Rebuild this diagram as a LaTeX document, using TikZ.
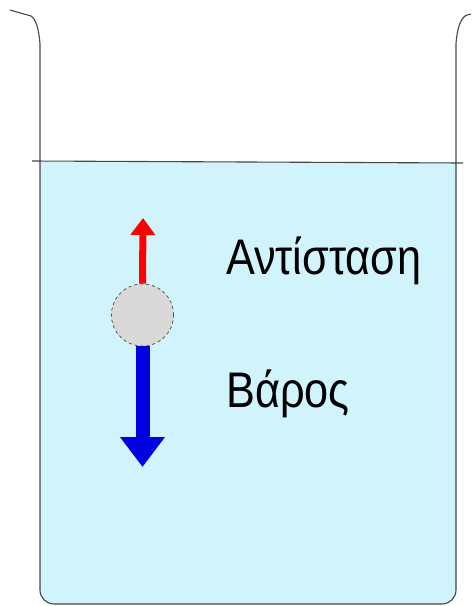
\documentclass[tikz,border=0pt]{standalone}
\usepackage{fontspec}
\setmainfont{Liberation Sans}
\usetikzlibrary{arrows.meta}
\definecolor{water}{RGB}{208,243,252}
\definecolor{glass}{RGB}{70,70,70}
\definecolor{ballgray}{RGB}{217,217,217}
\definecolor{forcered}{RGB}{255,0,0}
\definecolor{forceblue}{RGB}{0,0,225}
\tikzset{
  wall/.style={draw=glass, line width=1.1pt},
  label/.style={anchor=base west, inner sep=0pt, font=\fontsize{50}{50}\selectfont},
  upforce/.style={draw=forcered, line width=7pt, -{Triangle[width=24pt,length=17pt]}},
  downforce/.style={draw=forceblue, line width=14pt, -{Triangle[width=43pt,length=30pt]}},
}
\begin{document}
\begin{tikzpicture}[x=1pt,y=-1pt]
\useasboundingbox (0,0) rectangle (473,606);
% water
\fill[water] (40,162) -- (456,162) -- (456,590) arc[start angle=0,end angle=90,radius=14] -- (54,604) arc[start angle=90,end angle=180,radius=14] -- cycle;
\draw[wall] (32,161) -- (463,163);
% beaker
\draw[wall] (10,10) -- (31,16) .. controls (36,19) and (39,30) .. (40,44) -- (40,590)
  arc[start angle=180,end angle=90,radius=14] -- (442,604)
  arc[start angle=90,end angle=0,radius=14] -- (456,44)
  .. controls (457,28) and (461,17) .. (467,15) -- (471,14);
% ball and forces
\node[circle, minimum size=62pt, inner sep=0pt, fill=ballgray, draw=black!70, dashed, line width=0.6pt] (ball) at (142.5,315) {};
\coordinate (uptip) at (143,218);
\coordinate (downtip) at (142.5,467);
\draw[upforce] (ball.north) -- (uptip);
\draw[downforce] (ball.south) -- (downtip);
\node[circle, minimum size=62pt, inner sep=0pt, fill=ballgray, draw=black!70, dashed, line width=0.6pt] at (ball) {};
% labels
\node[label] (resist) at (226,274) {\scalebox{0.865}[1]{Αντίσταση}};
\node[label] (weight) at (226,407) {\scalebox{0.865}[1]{Βάρος}};
\end{tikzpicture}
\end{document}
